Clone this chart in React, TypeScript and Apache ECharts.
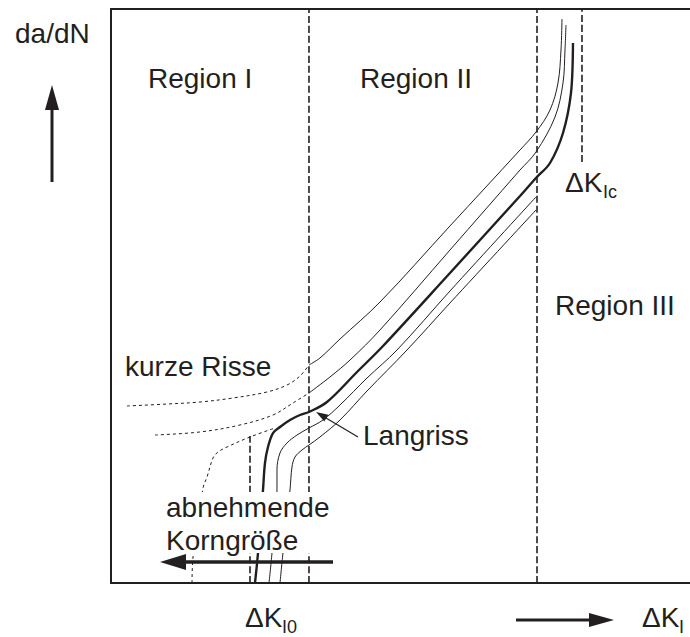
import React, { useEffect, useRef } from "react";
import * as echarts from "echarts";

// Schematic units: x = log ΔK (0..98.47 visible), y = log da/dN (0..100)
const xMax = 98.47;
const regionBoundaries = [33.67, 72.45];
const deltaKIc = 80.1;
const deltaKIcRange = [73.34, 100];
const deltaKI0 = 23.64;
const deltaKI0Top = 25.78;

// short-crack branches (dotted, region I)
const shortCrack1Dotted = [[2.72, 30.84], [9.52, 31.18], [15.14, 31.53], [20.75, 32.23], [26.53, 33.28], [29.93, 34.49], [32.14, 36.06], [33.67, 37.98]];
const shortCrack2Dotted = [[7.48, 25.78], [15.14, 26.31], [21.94, 27.53], [27.55, 29.27], [30.95, 31.36], [33.67, 33.1]];
const shortCrack3Dotted = [[13.78, 0], [13.95, 4.53], [15.65, 16.55], [16.33, 18.47], [17.35, 21.78], [18.2, 22.82], [19.73, 23.69], [23.64, 25.44], [27.89, 27.0]];

// solid curves
const shortCrack1 = [[33.67, 37.98], [35.54, 39.2], [38.95, 42.51], [45.75, 48.95], [57.65, 62.2], [69.56, 75.44], [72.28, 78.57], [74.66, 82.4], [76.02, 87.11], [76.53, 92.86], [76.7, 98.26]];
const shortCrack2 = [[33.67, 33.1], [37.24, 35.89], [40.65, 38.85], [45.75, 44.08], [57.65, 58.01], [69.56, 71.95], [72.28, 75.09], [75.51, 81.18], [76.87, 87.11], [77.21, 92.86], [77.38, 97.21]];
const longCrack = [[24.49, 0], [25.0, 5.23], [25.85, 16.2], [26.19, 20.91], [26.7, 23.69], [27.55, 26.13], [28.74, 27.18], [30.44, 28.4], [32.14, 29.27], [33.67, 29.79], [36.73, 31.53], [41.84, 36.76], [46.26, 41.29], [57.65, 54.01], [69.56, 67.42], [72.28, 70.56], [74.66, 73.17], [76.87, 78.4], [78.23, 85.37], [78.57, 94.08]];
const grainCurve1 = [[26.87, 0], [27.38, 5.23], [28.23, 16.2], [28.23, 19.69], [28.74, 22.65], [29.93, 24.39], [31.63, 25.78], [33.67, 27.0], [36.05, 28.4], [38.95, 31.01], [43.54, 35.71], [48.64, 40.59], [57.65, 50.87], [72.28, 67.25]];
const grainCurve2 = [[28.74, 0], [29.25, 5.23], [30.44, 16.2], [30.78, 20.21], [31.29, 21.95], [32.48, 23.17], [33.67, 24.04], [35.54, 25.44], [38.95, 28.4], [43.54, 33.45], [50.34, 40.59], [57.65, 48.78], [72.28, 64.98]];

const INK = "#231f20";
const FONT = '"Liberation Sans", Arial, Helvetica, sans-serif';

function curve(data: number[][], width: number, dash: any = "solid", z = 3) {
  return {
    type: "line",
    data,
    xAxisIndex: 0,
    showSymbol: false,
    symbol: "none",
    smooth: 0.35,
    silent: true,
    z,
    lineStyle: { color: INK, width, type: dash },
  };
}

function txt(text: string, x: number, y: number, size = 28) {
  return {
    type: "text",
    x,
    y,
    z: 20,
    silent: true,
    style: {
      text,
      fill: INK,
      font: `${size}px ${FONT}`,
      textAlign: "left",
      textVerticalAlign: "middle",
      verticalAlign: "middle",
    },
  };
}

function frameAxis(position: string) {
  return {
    type: "value",
    min: 0,
    max: position === "left" ? 100 : xMax,
    position,
    axisLine: { show: true, onZero: false, lineStyle: { color: INK, width: 2 } },
    axisTick: { show: false },
    axisLabel: { show: false },
    splitLine: { show: false },
  };
}

export default function App() {
  const ref = useRef<HTMLDivElement>(null);
  useEffect(() => {
    document.body.style.margin = "0";
    const chart = echarts.init(ref.current!, null, { renderer: "svg" });
    const dashV = [7, 3];
    const option: any = {
      animation: false,
      backgroundColor: "#ffffff",
      grid: { left: 111, top: 9, right: 0, bottom: 54, show: false },
      xAxis: [frameAxis("bottom"), frameAxis("top")],
      yAxis: frameAxis("left"),
      series: [
        curve([[regionBoundaries[0], 0], [regionBoundaries[0], 100]], 1.6, dashV, 2),
        curve([[regionBoundaries[1], 0], [regionBoundaries[1], 100]], 1.6, dashV, 2),
        curve([[deltaKIc, deltaKIcRange[0]], [deltaKIc, deltaKIcRange[1]]], 1.6, dashV, 2),
        curve([[deltaKI0, 0], [deltaKI0, deltaKI0Top]], 1.6, dashV, 2),
        curve(shortCrack1Dotted, 1, [3, 3]),
        curve(shortCrack2Dotted, 1, [3, 3]),
        curve(shortCrack3Dotted, 1, [3, 3]),
        curve(shortCrack1, 1),
        curve(shortCrack2, 1),
        curve(longCrack, 2.4),
        curve(grainCurve1, 1),
        curve(grainCurve2, 1),
      ],
      graphic: [
        { type: "rect", z: 15, silent: true, shape: { x: 158, y: 492, width: 182, height: 61 }, style: { fill: "#ffffff" } },
        txt("da/dN", 15, 33),
        txt("Region I", 148, 78),
        txt("Region II", 360, 78),
        txt("Region III", 555, 305),
        txt("ΔK", 565, 182),
        txt("Ic", 603, 192, 18),
        txt("kurze Risse", 125, 366),
        txt("Langriss", 363, 435),
        txt("abnehmende", 166, 507),
        txt("Korngröße", 166, 540),
        txt("ΔK", 245, 617),
        txt("I0", 282, 627, 18),
        txt("ΔK", 642, 617),
        txt("I", 679, 627, 18),
        // arrows
        { type: "line", z: 20, silent: true, shape: { x1: 52, y1: 182, x2: 52, y2: 105 }, style: { stroke: INK, lineWidth: 3 } },
        { type: "polygon", z: 20, silent: true, shape: { points: [[52, 85], [45, 110], [59, 110]] }, style: { fill: INK } },
        { type: "line", z: 20, silent: true, shape: { x1: 333, y1: 562, x2: 180, y2: 562 }, style: { stroke: INK, lineWidth: 3.5 } },
        { type: "polygon", z: 20, silent: true, shape: { points: [[160, 562], [186, 554], [186, 570]] }, style: { fill: INK } },
        { type: "line", z: 20, silent: true, shape: { x1: 516, y1: 620, x2: 595, y2: 620 }, style: { stroke: INK, lineWidth: 3 } },
        { type: "polygon", z: 20, silent: true, shape: { points: [[614, 620], [589, 613], [589, 627]] }, style: { fill: INK } },
        { type: "line", z: 20, silent: true, shape: { x1: 358, y1: 437, x2: 326, y2: 418 }, style: { stroke: INK, lineWidth: 1.2 } },
        { type: "polygon", z: 20, silent: true, shape: { points: [[316, 412], [328.4, 414.7], [324.3, 421.6]] }, style: { fill: INK } },
      ],
    };
    chart.setOption(option);
    return () => chart.dispose();
  }, []);
  return <div ref={ref} style={{ width: 690, height: 637 }} />;
}
